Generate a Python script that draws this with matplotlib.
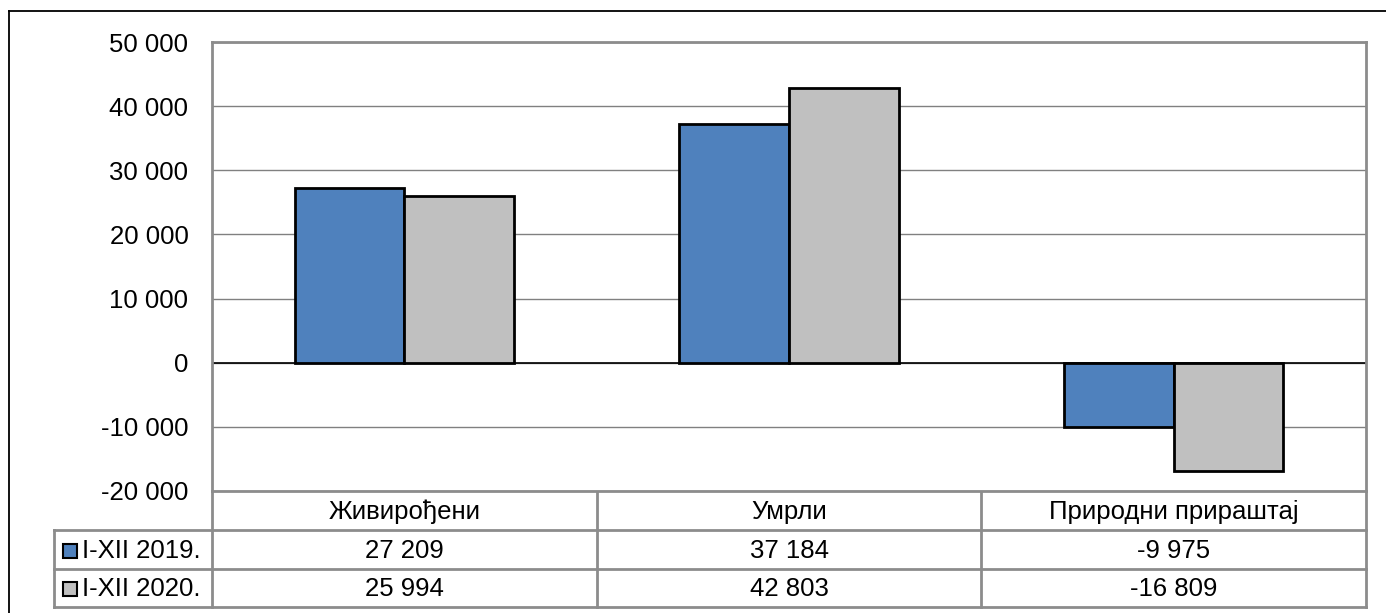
import matplotlib.pyplot as plt
from matplotlib.patches import Rectangle

plt.rcParams['font.family'] = ['Liberation Sans', 'DejaVu Sans']

# data
categories = ['Живирођени', 'Умрли', 'Природни прираштај']
series_names = ['I-XII 2019.', 'I-XII 2020.']
values_2019 = [27209, 37184, -9975]
values_2020 = [25994, 42803, -16809]
series_colors = ['#4F81BD', '#C0C0C0']
yticks = [-20000, -10000, 0, 10000, 20000, 30000, 40000, 50000]


def fmt(v):
    # thousands separated by a space, as in the source
    return '{:,}'.format(v).replace(',', ' ')


W, H = 1386, 613
FS = 18.5
fig = plt.figure(figsize=(W / 100, H / 100), dpi=100)

# plot area in pixels
x0, x1, y0, y1 = 212, 1366, 42, 491
ax = fig.add_axes([x0 / W, 1 - y1 / H, (x1 - x0) / W, (y1 - y0) / H])

bar_w = 0.285
xs = range(len(categories))
for i, (vals, col) in enumerate(zip([values_2019, values_2020], series_colors)):
    pos = [x + (i - 0.5) * bar_w for x in xs]
    ax.bar(pos, vals, width=bar_w, color=col, edgecolor='black', linewidth=2, zorder=3)

ax.set_xlim(-0.5, len(categories) - 0.5)
ax.set_ylim(yticks[0], yticks[-1])
ax.set_yticks(yticks)
ax.set_yticklabels([fmt(t) for t in yticks], fontsize=FS)
ax.tick_params(axis='y', length=0, pad=17)
ax.set_xticks([])
ax.grid(axis='y', color='#808080', linewidth=1, zorder=0)
ax.axhline(0, color='black', linewidth=1.2, zorder=2)
for s in ax.spines.values():
    s.set_color('#8C8C8C')
    s.set_linewidth(2)

# overlay in pixel coordinates for the data table and the frame
ov = fig.add_axes([0, 0, 1, 1], zorder=-1)
ov.set_xlim(0, W)
ov.set_ylim(H, 0)
ov.axis('off')

ov.plot([9, W + 5], [11, 11], color='black', lw=1.3)
ov.plot([9, 9], [11, H + 5], color='black', lw=1.3)

tc = '#8C8C8C'
col_edges = [x0 + k * (x1 - x0) / len(categories) for k in range(len(categories) + 1)]
row_edges = [491, 530, 569, 607]
leg_x = 54

for xe in col_edges:
    ov.plot([xe, xe], [row_edges[0], row_edges[-1]], color=tc, lw=2)
ov.plot([leg_x, leg_x], [row_edges[1], row_edges[-1]], color=tc, lw=2)
for ye in row_edges[1:]:
    ov.plot([leg_x, x1], [ye, ye], color=tc, lw=2)

for k, cat in enumerate(categories):
    cx = (col_edges[k] + col_edges[k + 1]) / 2
    ov.text(cx, (row_edges[0] + row_edges[1]) / 2 + 1, cat, ha='center', va='center', fontsize=FS)

for r, (name, vals, col) in enumerate(zip(series_names, [values_2019, values_2020], series_colors)):
    cy = (row_edges[r + 1] + row_edges[r + 2]) / 2 + 1
    ov.add_patch(Rectangle((63, cy - 7), 14, 14, facecolor=col, edgecolor='black', lw=1.5))
    ov.text(82, cy, name, ha='left', va='center', fontsize=FS)
    for k, v in enumerate(vals):
        cx = (col_edges[k] + col_edges[k + 1]) / 2
        ov.text(cx, cy, fmt(v), ha='center', va='center', fontsize=FS)

fig.savefig('out.png', dpi=100)
